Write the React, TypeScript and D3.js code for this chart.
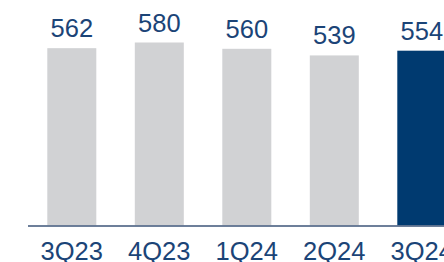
import React from "react";
import * as d3 from "d3";

const categories = ["3Q23", "4Q23", "1Q24", "2Q24", "3Q24"];
const values = [562, 580, 560, 539, 554];
const highlight = [false, false, false, false, true];

const W = 444;
const H = 262;

export default function App() {
  const x = d3.scaleBand<string>().domain(categories).range([8.8, 484.8]).padding(0.44);
  const y = d3.scaleLinear().domain([0, 580]).range([225.3, 42.5]);
  const font = "'Liberation Sans', Arial, sans-serif";
  return (
    <svg width={W} height={H} style={{ position: "fixed", left: 0, top: 0, background: "#fff" }}>
      {values.map((v, i) => (
        <rect
          key={categories[i]}
          x={x(categories[i])}
          y={y(v)}
          width={x.bandwidth()}
          height={y(0) - y(v)}
          fill={highlight[i] ? "#003a70" : "#d1d2d4"}
        />
      ))}
      <line x1={28} x2={W} y1={y(0) + 0.7} y2={y(0) + 0.7} stroke="#3d5478" strokeWidth={1.6} />
      {values.map((v, i) => (
        <text
          key={"v" + i}
          x={(x(categories[i]) as number) + x.bandwidth() / 2}
          y={y(v) - 11}
          textAnchor="middle"
          fontFamily={font}
          fontSize={25.5}
          fill="#1b4477"
        >
          {v}
        </text>
      ))}
      {categories.map((c) => (
        <text
          key={"c" + c}
          x={(x(c) as number) + x.bandwidth() / 2}
          y={260}
          textAnchor="middle"
          fontFamily={font}
          fontSize={25.5}
          fill="#1b4477"
        >
          {c}
        </text>
      ))}
    </svg>
  );
}
